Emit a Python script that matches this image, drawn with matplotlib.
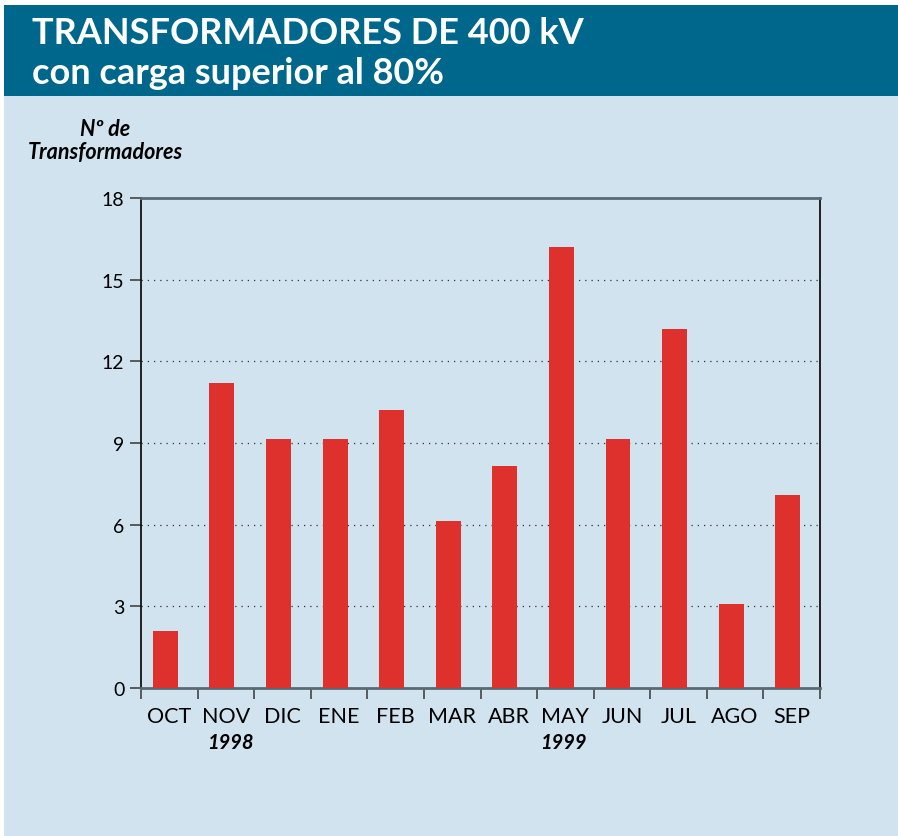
import matplotlib
matplotlib.use('Agg')
import matplotlib.pyplot as plt
from matplotlib.patches import Rectangle

# Data
months = ['OCT', 'NOV', 'DIC', 'ENE', 'FEB', 'MAR', 'ABR', 'MAY', 'JUN', 'JUL', 'AGO', 'SEP']
counts = [2.1, 11.2, 9.15, 9.15, 10.2, 6.15, 8.15, 16.2, 9.15, 13.2, 3.1, 7.1]
yticks = [0, 3, 6, 9, 12, 15, 18]
years = ['1998', '1999']

plt.rcParams['font.family'] = ['Lato', 'DejaVu Sans']

W, H = 898, 837
fig = plt.figure(figsize=(W / 100, H / 100), dpi=100)
fig.patch.set_facecolor('white')

# background panels (pixel coords converted to figure fraction)
def px(x, y, w, h):
    return (x / W, 1 - (y + h) / H, w / W, h / H)

x0, y0, w0, h0 = px(4, 97, 894, 740)
fig.patches.append(Rectangle((x0, y0), w0, h0, transform=fig.transFigure,
                             facecolor='#d0e3ee', edgecolor='none', zorder=-10))
x0, y0, w0, h0 = px(4, 6, 894, 91)
fig.patches.append(Rectangle((x0, y0), w0, h0, transform=fig.transFigure,
                             facecolor='#00678c', edgecolor='none', zorder=-10))

fig.text(32 / W, 1 - 33 / H, 'TRANSFORMADORES DE 400 kV', color='white',
         fontsize=26, fontweight='bold', va='center', ha='left')
fig.text(32 / W, 1 - 73 / H, 'con carga superior al 80%', color='white',
         fontsize=26, fontweight='bold', va='center', ha='left')

ax = fig.add_axes([141 / W, 1 - 689 / H, (820 - 141) / W, (689 - 199) / H])
ax.set_facecolor('none')

x = list(range(len(months)))
ax.bar([i - 0.07 for i in x], counts, width=0.44, color='#de312e', zorder=3)

ax.set_xlim(-0.5, len(months) - 0.5)
ax.set_ylim(0, 18)
ax.set_yticks(yticks)
ax.set_yticklabels([str(v) for v in yticks], fontsize=14)
for v in yticks[1:-1]:
    ax.axhline(v, color='#333333', linestyle=(0, (1, 4)), linewidth=0.9, zorder=1)

ax.set_xticks([i - 0.5 for i in range(len(months) + 1)])
ax.set_xticklabels([])
ax.set_xticks(x, minor=True)
ax.set_xticklabels(months, minor=True, fontsize=15.5)
ax.tick_params(axis='x', which='major', length=8, width=1.2, color='#444444', direction='out')
ax.tick_params(axis='x', which='minor', length=0, pad=13)
ax.tick_params(axis='y', length=8, width=1.2, color='#444444', pad=4)

for s in ['left', 'right']:
    ax.spines[s].set_color('#111111')
    ax.spines[s].set_linewidth(1.3)
for s in ['top', 'bottom']:
    ax.spines[s].set_color('#5a6a72')
    ax.spines[s].set_linewidth(2)

fig.text(105 / W, 1 - 130 / H, 'Nº de', fontsize=15.5, fontweight='bold',
         style='italic', ha='center', va='center')
fig.text(105 / W, 1 - 152 / H, 'Transformadores', fontsize=15.5, fontweight='bold',
         style='italic', ha='center', va='center')

fig.text(230 / W, 1 - 743 / H, years[0], fontsize=14.5, fontweight='bold',
         style='italic', ha='center', va='center')
fig.text(563 / W, 1 - 743 / H, years[1], fontsize=14.5, fontweight='bold',
         style='italic', ha='center', va='center')

fig.savefig('out.png', dpi=100)
